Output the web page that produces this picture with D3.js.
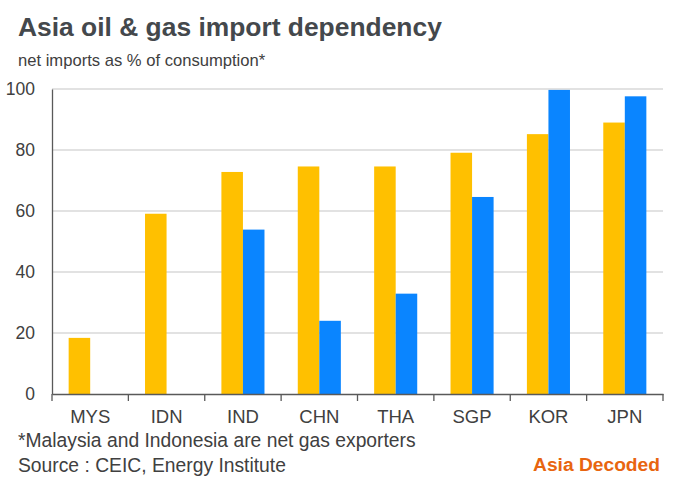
<!DOCTYPE html>
<html>
<head>
<meta charset="utf-8">
<script src="https://cdn.jsdelivr.net/npm/d3@7"></script>
<style>
  body { margin: 0; background: #fff; }
  svg { display: block; font-family: "Liberation Sans", Arial, sans-serif; }
</style>
</head>
<body>
<svg id="chart" width="680" height="478"></svg>
<script>
// data
var countries = ["MYS", "IDN", "IND", "CHN", "THA", "SGP", "KOR", "JPN"];
var oilShare = [18.4, 59.1, 72.8, 74.6, 74.6, 79.1, 85.2, 89.0];
var gasShare = [null, null, 53.9, 24.0, 32.9, 64.6, 99.7, 97.6];
var yTicks = [0, 20, 40, 60, 80, 100];

var svg = d3.select("#chart");
var margin = { left: 52, right: 17, top: 89, bottom: 84 };
var width = 680 - margin.left - margin.right;
var height = 478 - margin.top - margin.bottom;

var x = d3.scaleBand().domain(countries).range([0, width]).padding(0);
var bw = x.bandwidth();
var barW = bw * 0.282;
var series = ["oil", "gas"];
var x1 = d3.scaleBand().domain(series)
  .range([(bw - 2 * barW) / 2, (bw + 2 * barW) / 2]);
var y = d3.scaleLinear().domain([0, 100]).range([height, 0]);

var colors = { oil: "#FFC000", gas: "#0A85FF" };

var g = svg.append("g").attr("transform", "translate(" + margin.left + "," + margin.top + ")");

// gridlines
g.selectAll(".grid").data(yTicks.filter(d => d > 0)).enter().append("line")
  .attr("x1", 0).attr("x2", width)
  .attr("y1", d => y(d)).attr("y2", d => y(d))
  .attr("stroke", "#d9d9d9").attr("stroke-width", 1.5);

// bars
var rows = countries.map((c, i) => ({ c: c, oil: oilShare[i], gas: gasShare[i] }));
var groups = g.selectAll(".grp").data(rows).enter().append("g")
  .attr("transform", d => "translate(" + x(d.c) + ",0)");
groups.selectAll("rect")
  .data(d => series.filter(s => d[s] != null).map(s => ({ s: s, v: d[s] })))
  .enter().append("rect")
  .attr("x", d => x1(d.s))
  .attr("width", x1.bandwidth())
  .attr("y", d => y(d.v))
  .attr("height", d => height - y(d.v))
  .attr("fill", d => colors[d.s]);

// y axis
var yAxis = g.append("g").call(d3.axisLeft(y).tickValues(yTicks).tickSize(0).tickPadding(17));
yAxis.select(".domain").attr("stroke", "#595959").attr("stroke-width", 1.3);
yAxis.selectAll("text").attr("font-size", "17.5px").attr("fill", "#404040")
  .attr("font-family", "Liberation Sans, Arial, sans-serif");

// x axis with ticks on band edges
var xAxis = g.append("g").attr("transform", "translate(0," + height + ")")
  .call(d3.axisBottom(x).tickSize(0).tickPadding(16));
xAxis.select(".domain").attr("stroke", "#595959").attr("stroke-width", 1.3);
xAxis.selectAll("text").attr("font-size", "18.5px").attr("fill", "#404040")
  .attr("font-family", "Liberation Sans, Arial, sans-serif");
var edges = countries.map(c => x(c)).concat([width]);
xAxis.selectAll(".edge").data(edges).enter().append("line")
  .attr("x1", d => d).attr("x2", d => d)
  .attr("y1", 0).attr("y2", 7)
  .attr("stroke", "#595959").attr("stroke-width", 1.3);

// titles
svg.append("text").attr("x", 18).attr("y", 36)
  .attr("font-size", "26.4px").attr("font-weight", "bold").attr("fill", "#44484c")
  .text("Asia oil & gas import dependency");
svg.append("text").attr("x", 18).attr("y", 66)
  .attr("font-size", "16.6px").attr("fill", "#404040")
  .text("net imports as % of consumption*");

// footer
svg.append("text").attr("x", 18).attr("y", 447)
  .attr("font-size", "19.3px").attr("fill", "#404040")
  .text("*Malaysia and Indonesia are net gas exporters");
svg.append("text").attr("x", 18).attr("y", 471.5)
  .attr("font-size", "19.3px").attr("fill", "#404040")
  .text("Source : CEIC, Energy Institute");
svg.append("text").attr("x", 660).attr("y", 471)
  .attr("text-anchor", "end")
  .attr("font-size", "19.2px").attr("font-weight", "bold").attr("fill", "#E8650F")
  .text("Asia Decoded");
</script>
</body>
</html>
